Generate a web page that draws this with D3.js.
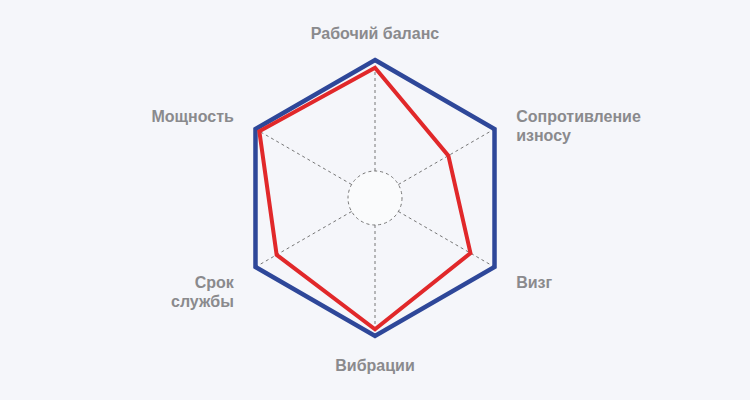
<!DOCTYPE html>
<html>
<head>
<meta charset="utf-8">
<script src="https://cdn.jsdelivr.net/npm/d3@7/dist/d3.min.js"></script>
<style>
html,body{margin:0;padding:0;background:#f5f6fa;}
svg{display:block;}
</style>
</head>
<body>
<svg id="chart" width="750" height="400"></svg>
<script>
const categories = [
  ["Рабочий баланс"],
  ["Сопротивление", "износу"],
  ["Визг"],
  ["Вибрации"],
  ["Срок", "службы"],
  ["Мощность"]
];
const maxValues = [100, 100, 100, 100, 100, 100];
const productValues = [93, 52, 75, 94, 78, 96];

const W = 750, H = 400;
const cx = 375, cy = 198;
const innerR = 27, outerR = 138;
const svg = d3.select("#chart");

const r = d3.scaleLinear().domain([0, 100]).range([innerR, outerR]);
const angle = d3.scaleLinear().domain([0, categories.length]).range([0, 2 * Math.PI]);

const g = svg.append("g").attr("transform", `translate(${cx},${cy})`);

// inner circle
g.append("circle").attr("r", innerR)
  .attr("fill", "#fafbfc")
  .attr("stroke", "#777").attr("stroke-width", 1).attr("stroke-dasharray", "3,3");

// spokes
categories.forEach((c, i) => {
  const a = angle(i);
  g.append("line")
    .attr("x1", innerR * Math.sin(a)).attr("y1", -innerR * Math.cos(a))
    .attr("x2", outerR * Math.sin(a)).attr("y2", -outerR * Math.cos(a))
    .attr("stroke", "#777").attr("stroke-width", 1).attr("stroke-dasharray", "3,3");
});

const line = d3.lineRadial()
  .angle((d, i) => angle(i))
  .radius(d => r(d))
  .curve(d3.curveLinearClosed);

g.append("path").datum(maxValues)
  .attr("d", line)
  .attr("fill", "none")
  .attr("stroke", "#2e4799")
  .attr("stroke-width", 4.5)
  .attr("stroke-linejoin", "miter");

g.append("path").datum(productValues)
  .attr("d", line)
  .attr("fill", "none")
  .attr("stroke", "#e1282a")
  .attr("stroke-width", 4)
  .attr("stroke-linejoin", "miter");

// labels
const labelRx = outerR + 25, labelRy = outerR + 28;
const lineH = 19;
categories.forEach((lines, i) => {
  const a = angle(i);
  const x = labelRx * Math.sin(a);
  const y = -labelRy * Math.cos(a) + 1.5;
  const sx = Math.abs(x) < 1 ? 0 : Math.sign(x);
  const anchor = sx === 0 ? "middle" : (sx > 0 ? "start" : "end");
  const t = g.append("text")
    .attr("x", x).attr("y", y)
    .attr("text-anchor", anchor)
    .attr("font-family", "'Liberation Sans', Arial, sans-serif")
    .attr("font-weight", "bold")
    .attr("font-size", 16)
    .attr("fill", "#8a8a8d");
  lines.forEach((s, k) => {
    t.append("tspan").attr("x", x)
      .attr("dy", k === 0 ? "0.35em" : lineH)
      .text(s);
  });
});
</script>
</body>
</html>
